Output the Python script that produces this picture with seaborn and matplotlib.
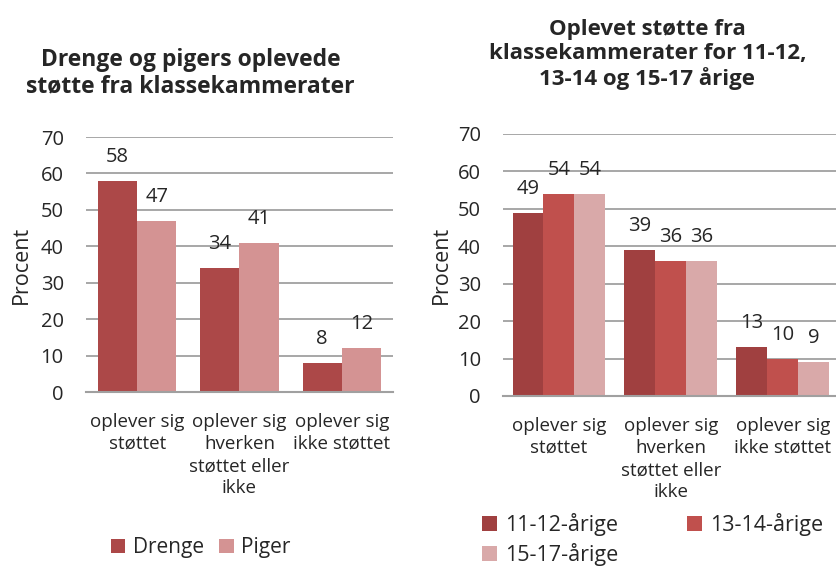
import pandas as pd
import seaborn as sns
import matplotlib.pyplot as plt

# data
kategorier = ["oplever sig\nstøttet", "oplever sig\nhverken\nstøttet eller\nikke", "oplever sig\nikke støttet"]
koen = ["Drenge", "Piger"]
drenge = [58, 34, 8]
piger = [47, 41, 12]

alder = ["11-12-årige", "13-14-årige", "15-17-årige"]
aar_11_12 = [49, 39, 13]
aar_13_14 = [54, 36, 10]
aar_15_17 = [54, 36, 9]

df_koen = pd.DataFrame({
    'Kategori': kategorier * 2,
    'Gruppe': [koen[0]] * 3 + [koen[1]] * 3,
    'Procent': drenge + piger,
})
df_alder = pd.DataFrame({
    'Kategori': kategorier * 3,
    'Gruppe': [alder[0]] * 3 + [alder[1]] * 3 + [alder[2]] * 3,
    'Procent': aar_11_12 + aar_13_14 + aar_15_17,
})

sns.set_style('white')
plt.rcParams['font.family'] = ['Open Sans', 'DejaVu Sans']

fig = plt.figure(figsize=(8.37, 5.66), dpi=100)
ax1 = fig.add_axes([0.1027, 0.3074, 0.3668, 0.4505])
ax2 = fig.add_axes([0.601, 0.3004, 0.401, 0.4629])

farver_koen = ['#AC4848', '#D49393']
farver_alder = ['#A04040', '#C0504D', '#D9A9A9']

sns.barplot(data=df_koen, x='Kategori', y='Procent', hue='Gruppe',
            palette=farver_koen, width=0.765, ax=ax1, legend=True,
            saturation=1, linewidth=0)
sns.barplot(data=df_alder, x='Kategori', y='Procent', hue='Gruppe',
            palette=farver_alder, width=0.83, ax=ax2, legend=True,
            saturation=1, linewidth=0)


def pynt(ax):
    ax.set_ylim(0, 70)
    ax.set_yticks(range(0, 71, 10))
    ax.set_xlim(-0.5, 2.5)
    ax.yaxis.grid(True, color='#A0A0A0', linewidth=1.3)
    ax.set_axisbelow(True)
    for s in ['top', 'right', 'left']:
        ax.spines[s].set_visible(False)
    ax.spines['bottom'].set_color('#A0A0A0')
    ax.spines['bottom'].set_linewidth(1.5)
    ax.set_xticks([-0.5, 0.5, 1.5, 2.5], minor=True)
    ax.tick_params(axis='x', which='minor', length=6, width=1.5, color='#A0A0A0', direction='out')
    ax.tick_params(axis='x', which='major', length=0, pad=15, labelsize=13.5)
    ax.tick_params(axis='y', length=0, pad=16, labelsize=14.5)
    ax.set_xlabel('')
    ax.set_ylabel('Procent', fontsize=15.5, labelpad=6)
    ax.set_xticks(range(3))
    ax.set_xticklabels(kategorier, linespacing=1.3)
    for c in ax.containers:
        ax.bar_label(c, padding=10, fontsize=14.5)


pynt(ax1)
pynt(ax2)
ax2.yaxis.labelpad = 4

ax1.set_title('Drenge og pigers oplevede\nstøtte fra klassekammerater',
              fontsize=16.5, fontweight='bold', pad=32, linespacing=1.15, x=0.34)
ax2.set_title('Oplevet støtte fra\nklassekammerater for 11-12,\n13-14 og 15-17 årige',
              fontsize=16, fontweight='bold', pad=35, linespacing=1.2, x=0.43)

h1, l1 = ax1.get_legend_handles_labels()
ax1.get_legend().remove()
fig.legend(h1, l1, loc='center left', bbox_to_anchor=(0.110, 0.032), ncol=2,
           frameon=False, fontsize=15, handlelength=0.7, handleheight=0.7,
           handletextpad=0.35, columnspacing=0.75)

h2, l2 = ax2.get_legend_handles_labels()
ax2.get_legend().remove()
fig.legend([h2[0], h2[2], h2[1]], [l2[0], l2[2], l2[1]], loc='center left',
           bbox_to_anchor=(0.553, 0.047), ncol=2, frameon=False, fontsize=15.5,
           handlelength=0.7, handleheight=0.7, handletextpad=0.35,
           columnspacing=3.2, labelspacing=0.3)

fig.savefig('out.png', dpi=100)
